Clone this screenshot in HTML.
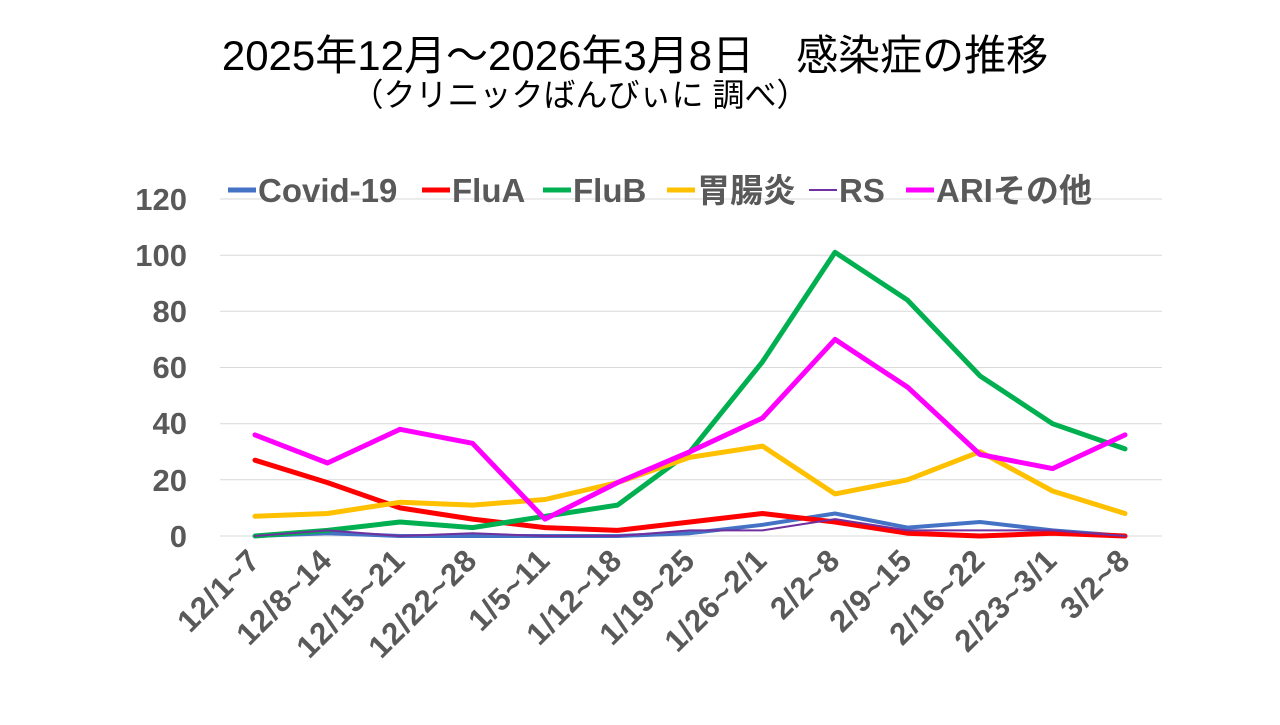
<!DOCTYPE html>
<html><head><meta charset="utf-8"><style>
body{margin:0;background:#fff;width:1280px;height:720px;overflow:hidden}
svg text{font-family:"Liberation Sans","Noto Sans CJK JP",sans-serif}
</style></head><body>
<svg width="1280" height="720" xmlns="http://www.w3.org/2000/svg">
<text x="635" y="70" font-size="42" text-anchor="middle" fill="#000">2025年12月～2026年3月8日　感染症の推移</text>
<text x="580" y="106" font-size="32" text-anchor="middle" fill="#000">（クリニックばんびぃに 調べ）</text>
<g stroke="#d9d9d9" stroke-width="1">
<line x1="220" x2="1162" y1="199" y2="199"/><line x1="220" x2="1162" y1="255.2" y2="255.2"/>
<line x1="220" x2="1162" y1="311.3" y2="311.3"/><line x1="220" x2="1162" y1="367.5" y2="367.5"/>
<line x1="220" x2="1162" y1="423.7" y2="423.7"/><line x1="220" x2="1162" y1="479.8" y2="479.8"/>
<line x1="220" x2="1162" y1="536" y2="536"/>
</g>
<g font-size="31" font-weight="bold" fill="#595959" text-anchor="end">
<text x="187" y="210">120</text><text x="187" y="266">100</text><text x="187" y="322">80</text>
<text x="187" y="378">60</text><text x="187" y="434">40</text><text x="187" y="491">20</text><text x="187" y="547">0</text>
</g>
<g font-size="31" font-weight="bold" fill="#595959" text-anchor="end" letter-spacing="1">
<text transform="translate(262,562) rotate(-45)">12/1~7</text>
<text transform="translate(334,562) rotate(-45)">12/8~14</text>
<text transform="translate(407,562) rotate(-45)">12/15~21</text>
<text transform="translate(479,562) rotate(-45)">12/22~28</text>
<text transform="translate(552,562) rotate(-45)">1/5~11</text>
<text transform="translate(624,562) rotate(-45)">1/12~18</text>
<text transform="translate(697,562) rotate(-45)">1/19~25</text>
<text transform="translate(769,562) rotate(-45)">1/26~2/1</text>
<text transform="translate(842,562) rotate(-45)">2/2~8</text>
<text transform="translate(914,562) rotate(-45)">2/9~15</text>
<text transform="translate(987,562) rotate(-45)">2/16~22</text>
<text transform="translate(1059,562) rotate(-45)">2/23~3/1</text>
<text transform="translate(1132,562) rotate(-45)">3/2~8</text>
</g>
<g fill="none" stroke-linejoin="round" stroke-linecap="round">
<polyline stroke="#4472c4" stroke-width="4" points="255,536 327.5,533.2 400,536 472.5,536 545,536 617.5,536 690,533.2 762.5,524.8 835,513.5 907.5,527.6 980,522 1052.5,530.4 1125,536"/>
<polyline stroke="#ff0000" stroke-width="5" points="255,460.2 327.5,482.6 400,507.9 472.5,519.1 545,527.6 617.5,530.4 690,522 762.5,513.5 835,522 907.5,533.2 980,536 1052.5,533.2 1125,536"/>
<polyline stroke="#00b050" stroke-width="5" points="255,536 327.5,530.4 400,522 472.5,527.6 545,516.3 617.5,505.1 690,451.7 762.5,361.8 835,252.3 907.5,300.1 980,375.9 1052.5,423.7 1125,448.9"/>
<polyline stroke="#ffc000" stroke-width="5" points="255,516.3 327.5,513.5 400,502.3 472.5,505.1 545,499.5 617.5,482.6 690,457.3 762.5,446.1 835,493.9 907.5,479.8 980,451.7 1052.5,491 1125,513.5"/>
<polyline stroke="#7030a0" stroke-width="2" points="255,536 327.5,530.4 400,536 472.5,533.2 545,536 617.5,536 690,530.4 762.5,530.4 835,519.1 907.5,530.4 980,530.4 1052.5,530.4 1125,536"/>
<polyline stroke="#ff00ff" stroke-width="5" points="255,434.9 327.5,463 400,429.3 472.5,443.3 545,519.1 617.5,482.6 690,451.7 762.5,418 835,339.4 907.5,387.1 980,454.5 1052.5,468.6 1125,434.9"/>
</g>
<g font-size="33" font-weight="bold" fill="#595959">
<line x1="228" x2="256" y1="190" y2="190" stroke="#4472c4" stroke-width="5"/><text x="258" y="202">Covid-19</text>
<line x1="422" x2="450" y1="190" y2="190" stroke="#ff0000" stroke-width="5"/><text x="452" y="202">FluA</text>
<line x1="543" x2="571" y1="190" y2="190" stroke="#00b050" stroke-width="5"/><text x="573" y="202">FluB</text>
<line x1="667" x2="695" y1="190" y2="190" stroke="#ffc000" stroke-width="5"/><text x="697" y="202">胃腸炎</text>
<line x1="809" x2="837" y1="190" y2="190" stroke="#7030a0" stroke-width="2"/><text x="839" y="202">RS</text>
<line x1="906" x2="934" y1="190" y2="190" stroke="#ff00ff" stroke-width="5"/><text x="936" y="202">ARIその他</text>
</g>
</svg>
</body></html>
